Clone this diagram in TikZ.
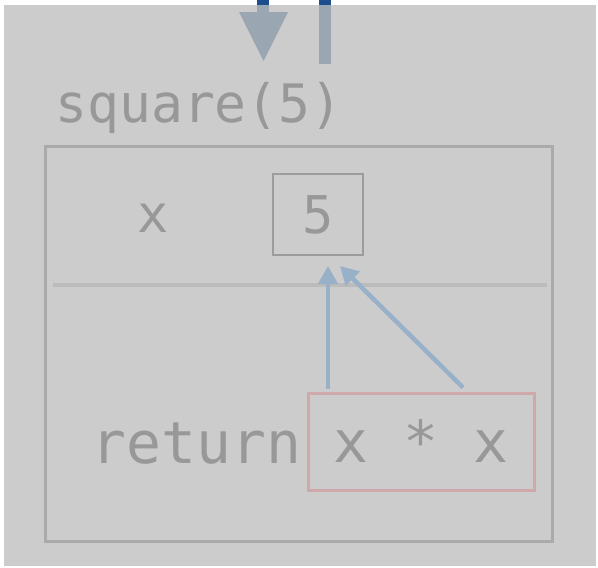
\documentclass[tikz,border=0pt]{standalone}
\usepackage{fontspec}
\newfontfamily\codefont{DejaVu Sans Mono}
\usetikzlibrary{arrows.meta,calc}
\definecolor{bgray}{HTML}{CCCCCC}
\definecolor{txtgray}{HTML}{989898}
\definecolor{framegray}{HTML}{AAAAAA}
\definecolor{sepgray}{HTML}{BBBBBB}
\definecolor{boxgray}{HTML}{9C9C9C}
\definecolor{exprred}{HTML}{CFA9A9}
\definecolor{arrblue}{HTML}{98B0C8}
\definecolor{darkblue}{HTML}{1B4E8A}
\definecolor{fadeblue}{HTML}{9AA6B2}
\tikzset{
  lbl/.style={font=\codefont\fontsize{52}{60}\selectfont, text=txtgray, inner sep=0pt, anchor=base},
  titlelbl/.style={font=\codefont\fontsize{53}{60}\selectfont, text=txtgray, inner sep=0pt, anchor=base},
  biglbl/.style={font=\codefont\fontsize{58}{66}\selectfont, text=txtgray, inner sep=0pt, anchor=base},
  valbox/.style={draw=boxgray, line width=2pt, font=\codefont\fontsize{52}{60}\selectfont, text=txtgray,
    inner sep=0pt, minimum width=90pt, minimum height=81pt, text height=37pt, text depth=0pt},
  exprbox/.style={draw=exprred, line width=3pt, font=\codefont\fontsize{58}{66}\selectfont, text=txtgray,
    inner sep=0pt, minimum width=226pt, minimum height=97pt, text height=41pt, text depth=0pt},
  ptr/.style={draw=arrblue, line width=4.5pt, -{Triangle[length=18pt,width=19pt]}},
}
\begin{document}
\begin{tikzpicture}[x=1pt,y=-1pt]
\useasboundingbox (0,0) rectangle (598,568);
\fill[white] (0,0) rectangle (598,568);
\fill[bgray] (4,5) rectangle (596,566);
% incoming arrows at top
\fill[darkblue] (257,0) rectangle (269,5);
\fill[fadeblue] (257,5) rectangle (269,13);
\fill[fadeblue] (239,12) -- (288,12) -- (263.5,61) -- cycle;
\fill[darkblue] (319,0) rectangle (331,5);
\fill[fadeblue] (319,5) rectangle (331,64);
% title
\node[titlelbl] (title) at (199,122) {square(5)};
% frame
\node[draw=framegray, line width=3.3pt, minimum width=507pt, minimum height=395pt, inner sep=0pt] (frame) at (299,344) {};
% separator
\coordinate (sepL) at (53,285);
\coordinate (sepR) at (547,285);
\draw[sepgray, line width=4.5pt] (sepL) -- (sepR);
% x = 5
\node[lbl] (xname) at (153.5,232) {x};
\node[valbox] (five) at (318,214.5) {5};
% return x * x
\node[biglbl] (ret) at (196.5,463) {return};
\node[exprbox] (expr) at (421,441.5) {x * x};
% pointers
\draw[ptr] ($(expr.north)+(-93,-3)$) -- ($(five.south)+(10,10)$);
\draw[ptr] ($(expr.north)+(42,-4)$) -- ($(five.south)+(22,10)$);
\end{tikzpicture}
\end{document}
